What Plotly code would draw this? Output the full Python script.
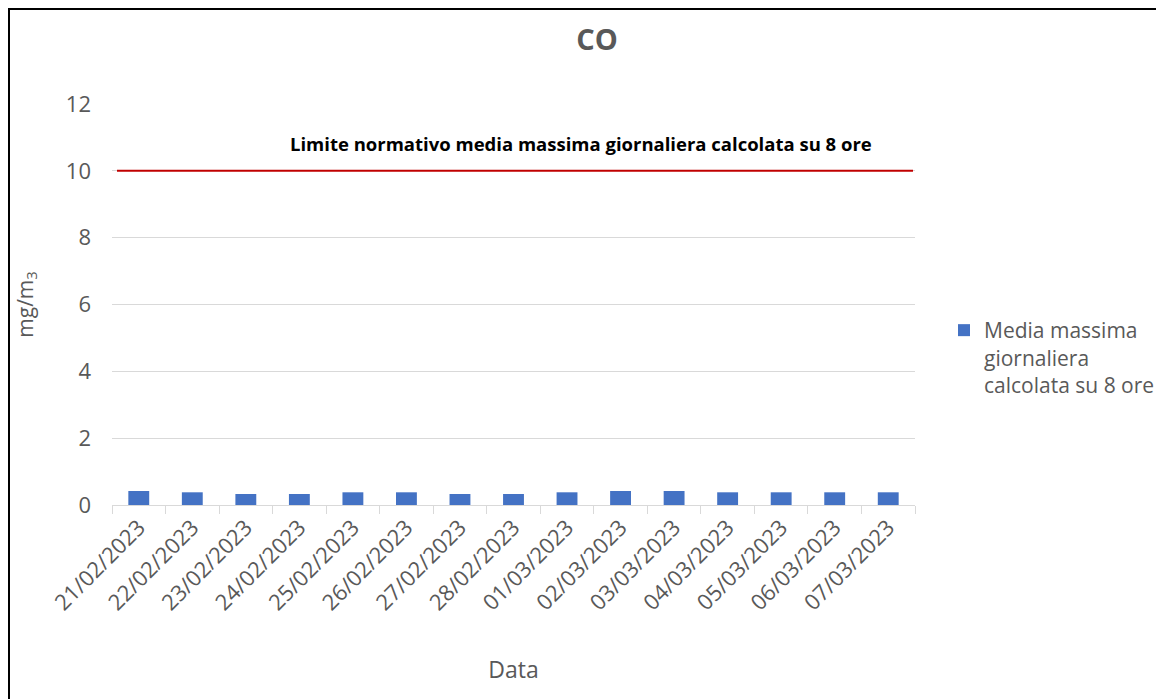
import plotly.graph_objects as go

dates = ["21/02/2023", "22/02/2023", "23/02/2023", "24/02/2023", "25/02/2023",
         "26/02/2023", "27/02/2023", "28/02/2023", "01/03/2023", "02/03/2023",
         "03/03/2023", "04/03/2023", "05/03/2023", "06/03/2023", "07/03/2023"]
values = [0.42, 0.38, 0.33, 0.33, 0.38, 0.38, 0.33, 0.33, 0.38, 0.42,
          0.42, 0.38, 0.38, 0.38, 0.38]
limit_value = 10
series_name = "Media massima<br>giornaliera<br>calcolata su 8 ore"
limit_label = "Limite normativo media massima giornaliera calcolata su 8 ore"
y_ticks = [0, 2, 4, 6, 8, 10, 12]

W, H = 1156, 699
L = 112
T = 104
pw = 915 - 112
ph = 505 - 104
R = W - L - pw
B = H - T - ph

def px_x(px):  # reference pixel -> paper
    return (px - L) / pw

def px_y(py):
    return (H - B - py) / ph

FONT = "Open Sans"
GREY = "#595959"

fig = go.Figure()
fig.add_trace(go.Bar(
    x=dates, y=values, name=series_name,
    marker=dict(color="#4472C4", line=dict(width=0)),
))

fig.add_shape(type="line", xref="paper", yref="y",
              x0=px_x(117), x1=px_x(913), y0=limit_value, y1=limit_value,
              line=dict(color="#C00000", width=2))

fig.add_annotation(text="<b>" + limit_label + "</b>", xref="paper", yref="paper",
                   x=px_x(581), y=px_y(143), xanchor="center", yanchor="middle",
                   showarrow=False, font=dict(family=FONT, size=18.5, color="#000000"))

# outer frame
fig.add_shape(type="rect", xref="paper", yref="paper",
              x0=px_x(9), x1=px_x(1175), y0=px_y(9), y1=px_y(720),
              line=dict(color="#000000", width=2), layer="below")

fig.update_layout(
    width=W, height=H,
    margin=dict(l=L, r=R, t=T, b=B, autoexpand=False),
    paper_bgcolor="white", plot_bgcolor="white",
    font=dict(family=FONT, color=GREY),
    title=dict(text="<b>CO</b>", x=597 / W, xanchor="center",
               y=1 - 40 / H, yanchor="middle",
               font=dict(size=29, color=GREY, family=FONT)),
    bargap=0.61,
    showlegend=True,
    legend=dict(x=px_x(944), y=px_y(310), xanchor="left", yanchor="top",
                valign="top", font=dict(size=21, color=GREY), itemwidth=30,
                bgcolor="rgba(0,0,0,0)"),
    xaxis=dict(
        type="category", tickangle=-45, tickfont=dict(size=22, color=GREY),
        showline=True, linecolor="#D9D9D9", linewidth=1,
        ticks="outside", tickson="boundaries", ticklen=8, tickcolor="#D9D9D9",
        showgrid=False,
        title=dict(text="Data", font=dict(size=23, color=GREY), standoff=46),
    ),
    yaxis=dict(
        range=[0, 12], tickvals=y_ticks, tickfont=dict(size=22, color=GREY),
        showgrid=True, gridcolor="#D9D9D9", gridwidth=1, zeroline=False,
        ticks="", ticklabelstandoff=20,
        title=dict(text="mg/m<sub>3</sub>", font=dict(size=21, color=GREY), standoff=26),
    ),
)

fig.write_html(
    "out.html",
    config={"displayModeBar": False},
    post_script="document.body.style.margin='0';document.body.style.overflow='hidden';",
)
